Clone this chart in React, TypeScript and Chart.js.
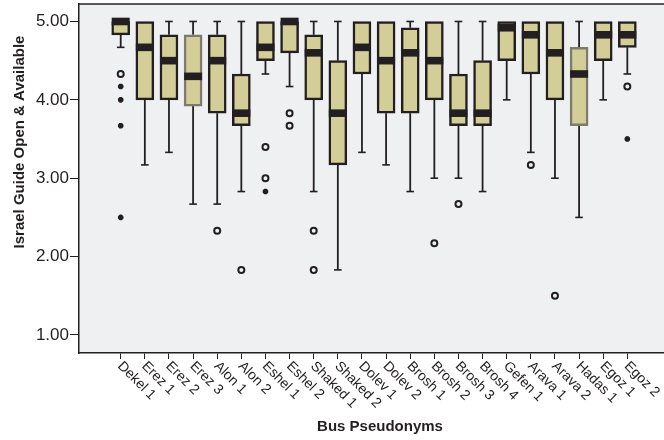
import React, { useEffect, useRef } from "react";
import { Chart, registerables } from "chart.js";

Chart.register(...registerables);

// ---------- data ----------
const categories = [
  "Dekel 1", "Erez 1", "Erez 2", "Erez 3", "Alon 1", "Alon 2", "Eshel 1", "Eshel 2",
  "Shaked 1", "Shaked 2", "Dolev 1", "Dolev 2", "Brosh 1", "Brosh 2", "Brosh 3", "Brosh 4",
  "Gefen 1", "Arava 1", "Arava 2", "Hadas 1", "Egoz 1", "Egoz 2",
];
const whiskerLow = [4.67, 3.17, 3.33, 2.67, 2.67, 2.83, 4.33, 4.17, 2.83, 1.83, 3.33, 3.17, 2.83, 3.0, 3.0, 2.83, 4.0, 3.33, 3.0, 2.5, 4.0, 4.33];
const q1 = [4.83, 4.0, 4.0, 3.92, 3.83, 3.67, 4.5, 4.6, 4.0, 3.17, 4.33, 3.83, 3.83, 4.0, 3.67, 3.67, 4.5, 4.33, 4.0, 3.67, 4.5, 4.67];
const median = [5.0, 4.67, 4.5, 4.3, 4.5, 3.83, 4.67, 5.0, 4.6, 3.83, 4.67, 4.5, 4.6, 4.5, 3.83, 3.83, 4.92, 4.83, 4.6, 4.33, 4.83, 4.83];
const q3 = [5.0, 5.0, 4.83, 4.83, 4.83, 4.33, 5.0, 5.0, 4.83, 4.5, 5.0, 5.0, 4.92, 5.0, 4.33, 4.5, 5.0, 5.0, 5.0, 4.67, 5.0, 5.0];
const whiskerHigh = [5.0, 5.0, 5.0, 5.0, 5.0, 5.0, 5.0, 5.0, 5.0, 5.0, 5.0, 5.0, 5.0, 5.0, 5.0, 5.0, 5.0, 5.0, 5.0, 5.0, 5.0, 5.0];
// outliers (circles) and extremes (stars) per category
const outliers: number[][] = [
  [4.33], [], [], [], [2.33], [1.83], [3.4, 3.0], [3.83, 3.67],
  [2.33, 1.83], [], [], [], [], [2.17], [2.67], [],
  [], [3.17], [1.5], [], [], [4.17],
];
const extremes: number[][] = [
  [4.17, 4.0, 3.67, 2.5], [], [], [], [], [], [2.83], [],
  [], [], [], [], [], [], [], [],
  [], [], [], [], [], [3.5],
];
const yTicks = [1, 2, 3, 4, 5];

// ---------- styles ----------
const DARK = "#231f20";
const BOX_FILL = "#d3ce97";
const PLOT_BG = "#eff0f1";
const FONT = "'Liberation Sans', Arial, Helvetica, sans-serif";
const greyBorderBoxes = new Set([3, 19]);

const boxPlugin = {
  id: "boxExtras",
  beforeDraw(chart: any) {
    const { ctx, chartArea: a } = chart;
    ctx.save();
    ctx.fillStyle = PLOT_BG;
    ctx.fillRect(a.left, a.top, a.right - a.left, a.bottom - a.top);
    ctx.restore();
  },
  beforeDatasetsDraw(chart: any) {
    const { ctx } = chart;
    const xs = chart.scales.x;
    const ys = chart.scales.y;
    ctx.save();
    ctx.strokeStyle = DARK;
    categories.forEach((_, i) => {
      const x = xs.getPixelForValue(i);
      const segs: [number, number][] = [];
      if (whiskerHigh[i] > q3[i]) segs.push([q3[i], whiskerHigh[i]]);
      if (whiskerLow[i] < q1[i]) segs.push([q1[i], whiskerLow[i]]);
      segs.forEach(([from, to]) => {
        const y0 = ys.getPixelForValue(from);
        const y1 = ys.getPixelForValue(to);
        ctx.lineWidth = 1.8;
        ctx.beginPath();
        ctx.moveTo(x, y0);
        ctx.lineTo(x, y1);
        ctx.stroke();
        ctx.lineWidth = 1.6;
        ctx.beginPath();
        ctx.moveTo(x - 3.8, y1);
        ctx.lineTo(x + 3.8, y1);
        ctx.stroke();
      });
    });
    ctx.restore();
  },
  afterDatasetsDraw(chart: any) {
    const { ctx } = chart;
    const xs = chart.scales.x;
    const ys = chart.scales.y;
    ctx.save();
    ctx.fillStyle = DARK;
    categories.forEach((_, i) => {
      const x = xs.getPixelForValue(i);
      const y = ys.getPixelForValue(median[i]);
      ctx.fillRect(x - 9, y - 3.8, 18, 7.6);
    });
    ctx.restore();
  },
  afterDraw(chart: any) {
    const { ctx, chartArea: a } = chart;
    const xs = chart.scales.x;
    ctx.save();
    // top frame line
    ctx.strokeStyle = DARK;
    ctx.lineWidth = 1.5;
    ctx.beginPath();
    ctx.moveTo(a.left, a.top);
    ctx.lineTo(a.right, a.top);
    ctx.stroke();
    // x category labels, rotated
    ctx.fillStyle = DARK;
    ctx.font = `14px ${FONT}`;
    ctx.textAlign = "left";
    ctx.textBaseline = "top";
    categories.forEach((c, i) => {
      const x = xs.getPixelForValue(i);
      ctx.save();
      ctx.translate(x + 4, a.bottom + 6);
      ctx.rotate(Math.PI / 4);
      ctx.fillText(c, 0, 0);
      ctx.restore();
    });
    // axis titles
    ctx.font = `bold 15px ${FONT}`;
    ctx.textAlign = "center";
    ctx.textBaseline = "middle";
    ctx.fillText("Bus Pseudonyms", 380, 427);
    ctx.save();
    ctx.translate(20, 142);
    ctx.rotate(-Math.PI / 2);
    ctx.fillText("Israel Guide Open & Available", 0, 0);
    ctx.restore();
    ctx.restore();
  },
};

export default function App() {
  const ref = useRef<HTMLCanvasElement>(null);
  useEffect(() => {
    document.body.style.margin = "0";
    const outlierPts: { x: number; y: number }[] = [];
    outliers.forEach((vals, i) => vals.forEach((v) => outlierPts.push({ x: i, y: v })));
    const extremePts: { x: number; y: number }[] = [];
    extremes.forEach((vals, i) => vals.forEach((v) => extremePts.push({ x: i, y: v })));

    const chart = new Chart(ref.current as HTMLCanvasElement, {
      type: "bar",
      data: {
        datasets: [
          {
            type: "bar",
            data: categories.map((_, i) => ({ x: i, y: [q1[i], q3[i]] })) as any,
            backgroundColor: BOX_FILL,
            borderColor: categories.map((_, i) => (greyBorderBoxes.has(i) ? "#7d7b6c" : DARK)),
            borderWidth: 2.5,
            borderSkipped: false,
            barThickness: 18,
            grouped: false,
          } as any,
          {
            type: "scatter",
            data: outlierPts,
            pointStyle: "circle",
            radius: 3,
            borderWidth: 2,
            borderColor: DARK,
            backgroundColor: PLOT_BG,
          } as any,
          {
            type: "scatter",
            data: extremePts,
            pointStyle: "star",
            radius: 2.8,
            borderWidth: 2,
            borderColor: DARK,
            backgroundColor: DARK,
          } as any,
        ],
      },
      options: {
        responsive: false,
        maintainAspectRatio: false,
        animation: false,
        layout: { autoPadding: false, padding: { top: 4, right: 0, left: 0, bottom: 0 } },
        plugins: {
          legend: { display: false },
          tooltip: { enabled: false },
        },
        scales: {
          x: {
            type: "linear",
            offset: false,
            min: -1.729,
            max: 22.52,
            afterBuildTicks: (s: any) => {
              s.ticks = categories.map((_, i) => ({ value: i }));
            },
            ticks: { display: false },
            grid: { offset: false, drawOnChartArea: false, drawTicks: true, tickLength: 6, color: DARK, lineWidth: 1 },
            border: { display: true, color: DARK, width: 1.5 },
            afterFit: (s: any) => {
              s.height = 87;
              s.paddingLeft = 0;
              s.paddingRight = 0;
            },
          },
          y: {
            type: "linear",
            min: 0.77,
            max: 5.223,
            afterBuildTicks: (s: any) => {
              s.ticks = yTicks.map((v) => ({ value: v }));
            },
            ticks: {
              callback: (v: any) => Number(v).toFixed(2),
              font: { family: FONT, size: 17 },
              color: DARK,
              padding: 1,
            },
            grid: { drawOnChartArea: false, drawTicks: true, tickLength: 9, color: DARK, lineWidth: 1 },
            border: { display: true, color: DARK, width: 1.5 },
            afterFit: (s: any) => {
              s.width = 79;
              s.paddingTop = 0;
              s.paddingBottom = 0;
            },
          },
        },
      } as any,
      plugins: [boxPlugin],
    });
    return () => chart.destroy();
  }, []);
  return (
    <div style={{ width: 664, height: 440 }}>
      <canvas ref={ref} width={664} height={440} style={{ display: "block" }} />
    </div>
  );
}
